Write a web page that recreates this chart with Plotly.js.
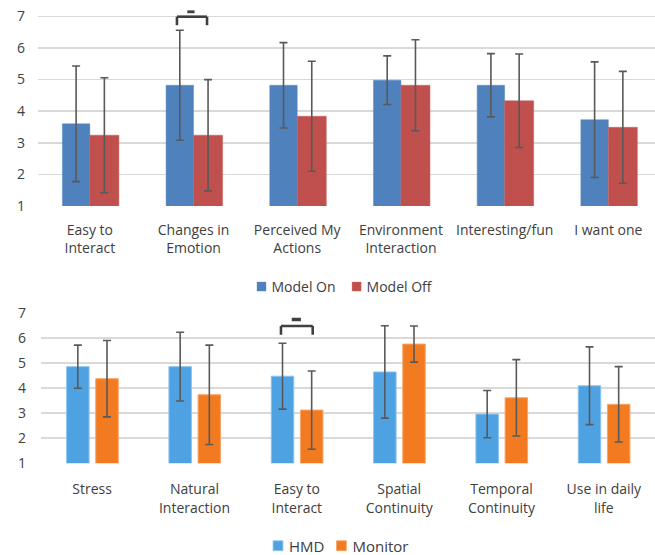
<!DOCTYPE html>
<html>
<head>
<meta charset="utf-8">
<script src="https://cdn.plot.ly/plotly-3.0.1.min.js"></script>
<style>html,body{margin:0;padding:0;background:#fff;}#chart{width:655px;height:555px;}</style>
</head>
<body>
<div id="chart"></div>
<script>
// ---- Top chart data ----
const topCategories = ["Easy to<br>Interact", "Changes in<br>Emotion", "Perceived My<br>Actions", "Environment<br>Interaction", "Interesting/fun", "I want one"];
const modelOn = [3.6, 4.82, 4.82, 4.98, 4.82, 3.73];
const modelOnErr = [1.83, 1.74, 1.35, 0.77, 1.0, 1.83];
const modelOff = [3.24, 3.24, 3.84, 4.82, 4.33, 3.49];
const modelOffErr = [1.82, 1.76, 1.74, 1.44, 1.48, 1.77];

// ---- Bottom chart data ----
const bottomCategories = ["Stress", "Natural<br>Interaction", "Easy to<br>Interact", "Spatial<br>Continuity", "Temporal<br>Continuity", "Use in daily<br>life"];
const hmd = [4.85, 4.85, 4.47, 4.64, 2.96, 4.09];
const hmdErr = [0.86, 1.37, 1.31, 1.84, 0.94, 1.55];
const monitor = [4.37, 3.73, 3.12, 5.75, 3.61, 3.35];
const monitorErr = [1.52, 1.98, 1.56, 0.72, 1.52, 1.5];

const yTicks = [1, 2, 3, 4, 5, 6, 7];
// significance brackets: category index in each chart
const topSig = 1;
const bottomSig = 2;

const W = 655, H = 555;
const errStyle = {type: 'data', visible: true, color: '#595959', thickness: 1.6, width: 4};
const font = {family: 'Open Sans, sans-serif', size: 13, color: '#404040'};

function err(arr) { return Object.assign({array: arr}, errStyle); }

const traces = [
  {type: 'bar', name: 'Model On', x: topCategories, y: modelOn, error_y: err(modelOnErr),
   marker: {color: '#4F81BD', line: {color: '#5a8ac4', width: 0.5}}, xaxis: 'x', yaxis: 'y', legend: 'legend',
   width: 0.265, offset: -0.265},
  {type: 'bar', name: 'Model Off', x: topCategories, y: modelOff, error_y: err(modelOffErr),
   marker: {color: '#C0504D', line: {color: '#c95e5b', width: 0.5}}, xaxis: 'x', yaxis: 'y', legend: 'legend',
   width: 0.28, offset: 0},
  {type: 'bar', name: 'HMD', x: bottomCategories, y: hmd, error_y: err(hmdErr),
   marker: {color: '#4FA2E2', line: {color: '#8DC4EE', width: 1}}, xaxis: 'x2', yaxis: 'y2', legend: 'legend2',
   width: 0.22, offset: -0.25},
  {type: 'bar', name: 'Monitor', x: bottomCategories, y: monitor, error_y: err(monitorErr),
   marker: {color: '#F27B22', line: {color: '#F8A466', width: 1}}, xaxis: 'x2', yaxis: 'y2', legend: 'legend2',
   width: 0.22, offset: 0.035}
];

function px2fy(py) { return 1 - py / H; }

const axisCommon = {
  showline: false, zeroline: false, ticks: '', fixedrange: true,
  tickfont: font, gridcolor: '#D9D9D9', gridwidth: 1.5
};

function bracket(xref, yref, c, x0, x1, yTop, yLeg, dx0, dx1, dy0, dy1) {
  const line = {color: '#404040', width: 2.6};
  return [
    {type: 'line', xref: xref, yref: yref, x0: c + x0, x1: c + x1, y0: yTop, y1: yTop, line: line},
    {type: 'line', xref: xref, yref: yref, x0: c + x0, x1: c + x0, y0: yTop, y1: yLeg, line: line},
    {type: 'line', xref: xref, yref: yref, x0: c + x1, x1: c + x1, y0: yTop, y1: yLeg, line: line},
    {type: 'rect', xref: xref, yref: yref, x0: c + dx0, x1: c + dx1, y0: dy0, y1: dy1,
     fillcolor: '#404040', line: {width: 0}}
  ];
}

const shapes = [].concat(
  bracket('x', 'y', topSig, -0.16, 0.13, 6.99, 6.72, -0.06, 0.01, 7.1, 7.19),
  bracket('x2', 'y2', bottomSig, -0.155, 0.155, 6.47, 6.12, -0.05, 0.04, 6.66, 6.8)
);

const layout = {
  width: W, height: H,
  margin: {l: 0, r: 0, t: 0, b: 0, autoexpand: false},
  paper_bgcolor: '#fff', plot_bgcolor: '#fff',
  font: font,
  barmode: 'overlay',
  showlegend: true,
  xaxis: Object.assign({}, axisCommon, {domain: [38 / W, 1], range: [-0.5, 5.45], anchor: 'y',
    type: 'category', showgrid: false, ticklabelstandoff: 14, tickfont: Object.assign({}, font, {size: 14})}),
  yaxis: Object.assign({}, axisCommon, {domain: [px2fy(206), px2fy(5)], range: [1, 7.36], anchor: 'x',
    tickvals: yTicks, ticklabelstandoff: 12, tickfont: Object.assign({}, font, {size: 14})}),
  xaxis2: Object.assign({}, axisCommon, {domain: [41 / W, 1], range: [-0.5, 5.5], anchor: 'y2',
    type: 'category', showgrid: false, ticklabelstandoff: 16, tickfont: Object.assign({}, font, {size: 14})}),
  yaxis2: Object.assign({}, axisCommon, {domain: [px2fy(463.3), px2fy(312.7)], range: [1, 7], anchor: 'x2',
    tickvals: yTicks, ticklabelstandoff: 14, tickfont: Object.assign({}, font, {size: 14})}),
  legend: {orientation: 'h', xref: 'container', yref: 'container', x: 342 / W, xanchor: 'center',
    y: 1 - 287 / H, yanchor: 'middle',
    font: Object.assign({}, font, {size: 14}), itemwidth: 30, bgcolor: 'rgba(0,0,0,0)'},
  legend2: {orientation: 'h', xref: 'container', yref: 'container', x: 340 / W, xanchor: 'center',
    y: 1 - 546 / H, yanchor: 'middle',
    font: Object.assign({}, font, {size: 15}), itemwidth: 30, bgcolor: 'rgba(0,0,0,0)'},
  shapes: shapes
};

Plotly.newPlot('chart', traces, layout, {displayModeBar: false, staticPlot: true}).then(function (gd) {
  // tighten the legend entries (symbol closer to text, items closer together)
  const legends = [gd.querySelector('g.legend'), gd.querySelector('g.legend2')];
  legends.forEach(function (lg, li) {
    if (!lg) return;
    const items = lg.querySelectorAll('g.traces');
    const pull = li === 0 ? 14 : 17;
    const shift = li === 0 ? 10 : 9;
    const scale = li === 0 ? 0.75 : 0.82;
    items.forEach(function (it, k) {
      if (k > 0) {
        const t = it.getAttribute('transform') || '';
        it.setAttribute('transform', 'translate(' + (-pull * k) + ',0) ' + t);
      }
      const sym = it.querySelector('.legendsymbols');
      if (sym) {
        const st = sym.getAttribute('transform') || '';
        sym.setAttribute('transform', 'translate(' + shift + ',0) ' + st);
        sym.querySelectorAll('path').forEach(function (p) {
          const pt = p.getAttribute('transform') || '';
          p.setAttribute('transform', pt + ' scale(' + scale + ')');
        });
      }
    });
  });
});
</script>
</body>
</html>
